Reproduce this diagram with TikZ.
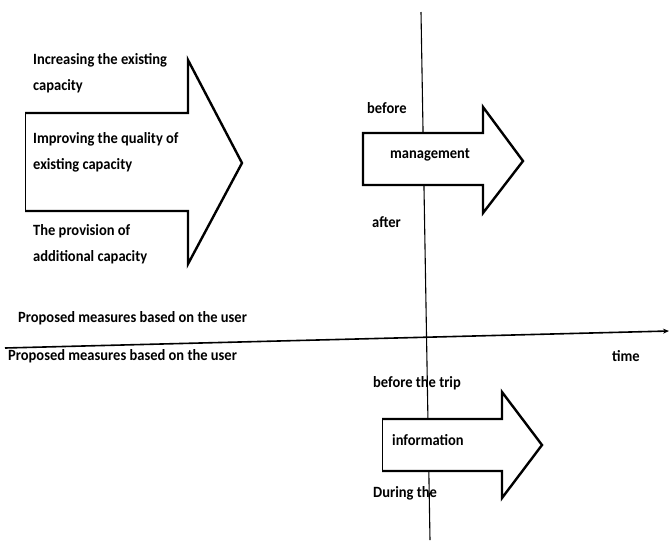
\documentclass[tikz,border=0pt]{standalone}
\usepackage{fontspec}
\setmainfont{Carlito}
\usetikzlibrary{arrows.meta}
\begin{document}
\begin{tikzpicture}[x=1pt,y=-1pt,
  lbl/.style={font=\bfseries\fontsize{14.5}{17}\selectfont, inner sep=0pt, anchor=west, yscale=-1.08, yscale=-1},
  arrowbody/.style={fill=white, draw=black, line width=2.4pt, line join=miter},
  thinedge/.style={draw=black, line width=1pt}]
\useasboundingbox (0,0) rectangle (670,542);
% vertical line
\coordinate (vtop) at (421,12);
\coordinate (vbot) at (430,540);
\draw[line width=1.1pt] (vtop) -- (vbot);
% horizontal time axis
\coordinate (hl) at (5,348);
\coordinate (hr) at (669,331);
\draw[line width=1.6pt, -{Stealth[length=6pt,width=5pt]}] (hl) -- (hr);
% big arrow
\fill[white] (25,113) -- (188,113) -- (188,60) -- (242,163) -- (188,264) -- (188,211) -- (25,211) -- cycle;
\draw[arrowbody, fill=none] (25,113) -- (188,113) -- (188,60) -- (242,163) -- (188,264) -- (188,211) -- (25,211);
\draw[thinedge] (25,112) -- (25,212);
% management arrow
\draw[arrowbody] (363,133) -- (483,133) -- (483,107) -- (523,161) -- (483,213) -- (483,185) -- (363,185) -- cycle;
% information arrow
\fill[white] (382,419) -- (502,419) -- (502,392) -- (542,445) -- (502,498) -- (502,471) -- (382,471) -- cycle;
\draw[arrowbody, fill=none] (382,419) -- (502,419) -- (502,392) -- (542,445) -- (502,498) -- (502,471) -- (382,471);
\draw[thinedge] (382,418) -- (382,472);
% texts
\node[lbl] (t1) at (33,60) {Increasing the existing};
\node[lbl] (t2) at (33,86) {capacity};
\node[lbl] (t3) at (33,139) {Improving the quality of};
\node[lbl] (t4) at (33,165) {existing capacity};
\node[lbl] (t5) at (33,231) {The provision of};
\node[lbl] (t6) at (33,257) {additional capacity};
\node[lbl] (before) at (367,108) {before};
\node[lbl] (mgmt) at (390,155) {management};
\node[lbl] (after) at (372,222) {after};
\node[lbl] (p1) at (18,318) {Proposed measures based on the user};
\node[lbl] (p2) at (8,356) {Proposed measures based on the user};
\node[lbl] (time) at (612,356) {time};
\node[lbl] (trip) at (373,383) {before the trip};
\node[lbl] (info) at (392,440) {information};
\node[lbl] (during) at (373,493) {During the};
\end{tikzpicture}
\end{document}
